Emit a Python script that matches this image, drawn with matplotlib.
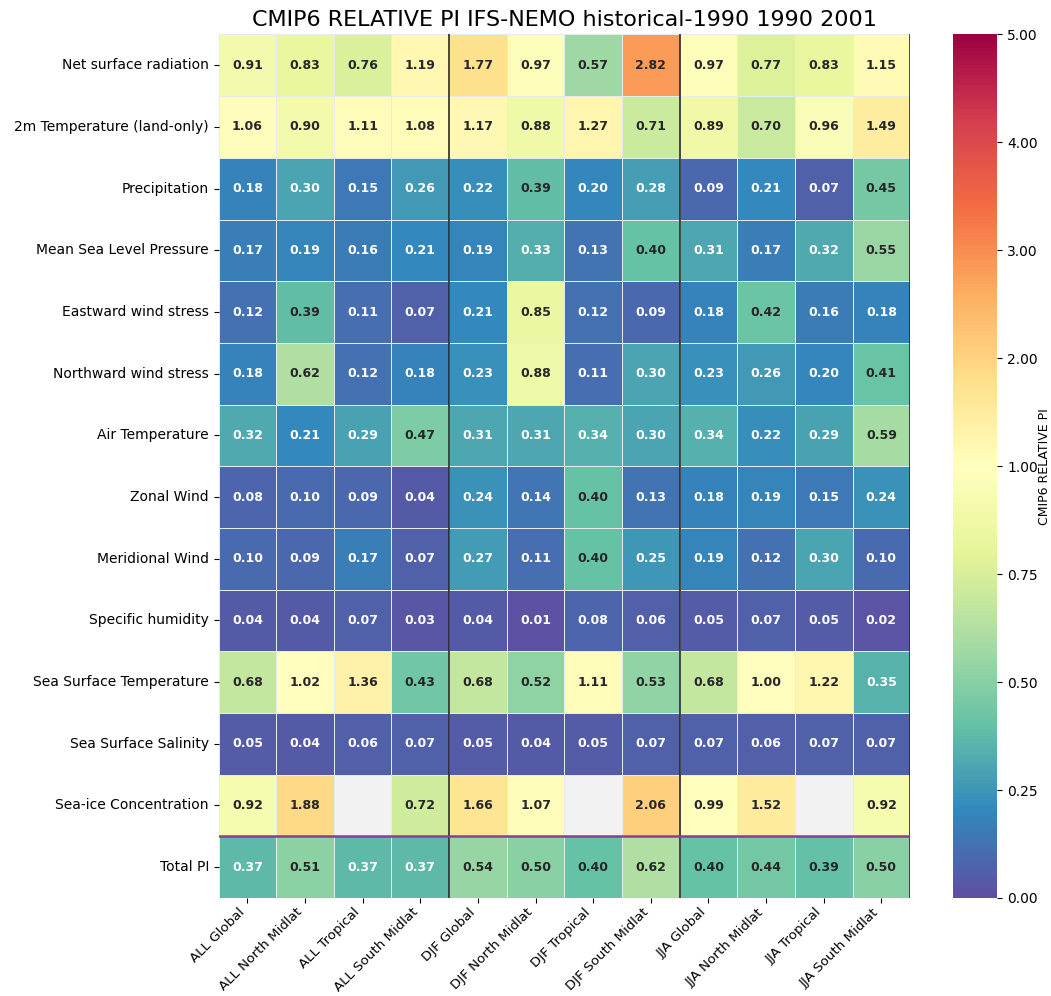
import numpy as np
import pandas as pd
import matplotlib
matplotlib.use("Agg")
import matplotlib.pyplot as plt
import matplotlib.colors as mcolors
import seaborn as sns

variables = [
    "Net surface radiation", "2m Temperature (land-only)", "Precipitation",
    "Mean Sea Level Pressure", "Eastward wind stress", "Northward wind stress",
    "Air Temperature", "Zonal Wind", "Meridional Wind", "Specific humidity",
    "Sea Surface Temperature", "Sea Surface Salinity", "Sea-ice Concentration",
    "Total PI",
]
columns = [
    "ALL Global", "ALL North Midlat", "ALL Tropical", "ALL South Midlat",
    "DJF Global", "DJF North Midlat", "DJF Tropical", "DJF South Midlat",
    "JJA Global", "JJA North Midlat", "JJA Tropical", "JJA South Midlat",
]

net_rad = [0.91, 0.83, 0.76, 1.19, 1.77, 0.97, 0.57, 2.82, 0.97, 0.77, 0.83, 1.15]
t2m = [1.06, 0.90, 1.11, 1.08, 1.17, 0.88, 1.27, 0.71, 0.89, 0.70, 0.96, 1.49]
precip = [0.18, 0.30, 0.15, 0.26, 0.22, 0.386, 0.20, 0.28, 0.09, 0.21, 0.07, 0.45]
mslp = [0.17, 0.19, 0.16, 0.21, 0.19, 0.33, 0.13, 0.40, 0.31, 0.17, 0.32, 0.55]
ewss = [0.12, 0.386, 0.11, 0.07, 0.21, 0.85, 0.12, 0.09, 0.18, 0.42, 0.16, 0.18]
nwss = [0.18, 0.62, 0.12, 0.18, 0.23, 0.88, 0.11, 0.30, 0.23, 0.26, 0.20, 0.41]
air_t = [0.32, 0.21, 0.29, 0.47, 0.31, 0.31, 0.34, 0.30, 0.34, 0.22, 0.29, 0.59]
zonal = [0.08, 0.10, 0.09, 0.04, 0.24, 0.14, 0.40, 0.13, 0.18, 0.19, 0.15, 0.24]
merid = [0.10, 0.09, 0.17, 0.07, 0.27, 0.11, 0.40, 0.25, 0.19, 0.12, 0.30, 0.10]
q = [0.04, 0.04, 0.07, 0.03, 0.04, 0.01, 0.08, 0.06, 0.05, 0.07, 0.05, 0.02]
sst = [0.68, 1.02, 1.36, 0.43, 0.68, 0.52, 1.11, 0.53, 0.68, 1.00, 1.22, 0.35]
sss = [0.05, 0.04, 0.06, 0.07, 0.05, 0.04, 0.05, 0.07, 0.07, 0.06, 0.07, 0.07]
sic = [0.92, 1.88, np.nan, 0.72, 1.66, 1.07, np.nan, 2.06, 0.99, 1.52, np.nan, 0.92]
total = [0.37, 0.51, 0.37, 0.37, 0.54, 0.50, 0.40, 0.62, 0.40, 0.44, 0.394, 0.50]

df = pd.DataFrame([net_rad, t2m, precip, mslp, ewss, nwss, air_t, zonal, merid,
                   q, sst, sss, sic, total], index=variables, columns=columns)

fig = plt.figure(figsize=(10.51, 9.96), dpi=100)
ax = fig.add_axes([0.208, 0.0984, 0.658, 0.867])
cax = fig.add_axes([0.907, 0.0984, 0.042, 0.867])
ax.set_facecolor("#f2f2f2")

# piecewise norm: 0-1 and 1-5 each take half of the colour bar
norm = mcolors.TwoSlopeNorm(vmin=0, vcenter=1, vmax=5)
sns.heatmap(df, ax=ax, cbar_ax=cax, cmap="Spectral_r", norm=norm,
            annot=True, fmt=".2f", annot_kws={"fontsize": 9, "fontweight": "bold"},
            linewidths=0.5, linecolor="#e4ecee",
            cbar_kws={"format": "%.2f"})

cax.set_yticks([0, 0.25, 0.5, 0.75, 1, 2, 3, 4, 5])
cax.tick_params(labelsize=10)
cax.set_ylabel("CMIP6 RELATIVE PI", fontsize=9, labelpad=0)
for s in cax.spines.values():
    s.set_visible(False)

for x in [4, 8, 12]:
    ax.axvline(x, color="#2a2a2a", lw=1.2)
ax.axhline(13, color="#8e3a9a", lw=1.8)

ax.tick_params(axis="x", pad=2)
ax.set_xticklabels(ax.get_xticklabels(), rotation=45, ha="right", fontsize=9.6)
ax.set_yticklabels(ax.get_yticklabels(), rotation=0, fontsize=10)
ax.set_title("CMIP6 RELATIVE PI IFS-NEMO historical-1990 1990 2001", fontsize=16)

fig.savefig("out.png", dpi=100)
